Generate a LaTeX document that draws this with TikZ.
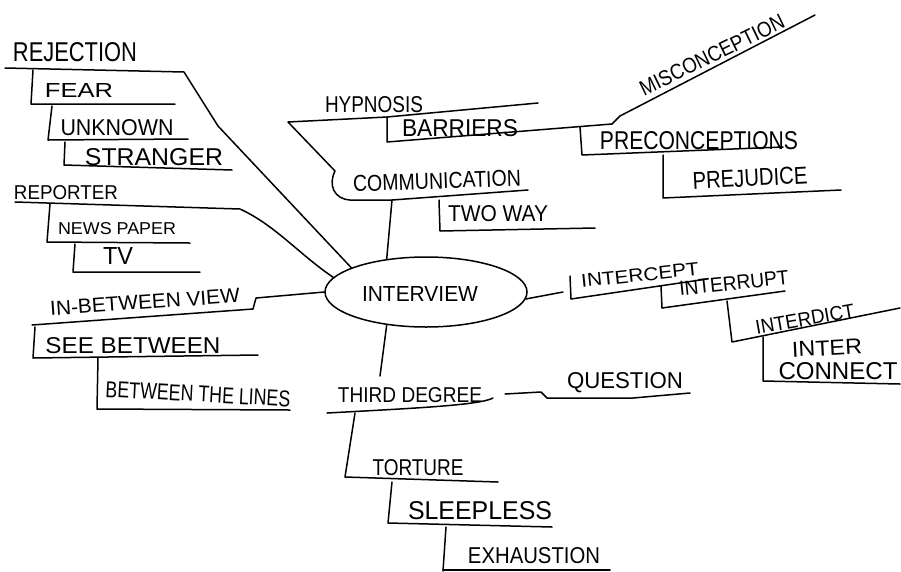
\documentclass[tikz,border=0pt]{standalone}
\usepackage{fontspec}
\setmainfont{Liberation Sans}
\usetikzlibrary{shapes.geometric}
% hand lettering: each word is stretched to the box it occupies (width, cap height)
\newcommand{\hw}[3]{\resizebox{#1pt}{#2pt}{#3}}
\tikzset{
  pen/.style={line width=1.5pt, line cap=round, line join=round, black},
  lbl/.style={inner sep=0pt, outer sep=0pt, anchor=center},
  hub/.style={draw, ellipse, line width=1.5pt, minimum width=202pt, minimum height=70pt, inner sep=0pt}
}
\begin{document}
\begin{tikzpicture}[x=1pt, y=-1pt]
\useasboundingbox[fill=white] (0,0) rectangle (901,571);

% ---- central node ----
\node[hub] (interview) at (426,292) {};
\node[lbl] (interviewtxt) at (420,294) {\hw{116}{15}{INTERVIEW}};

% ---- rejection branch ----
\node[lbl] (rejection) at (75,52) {\hw{124}{19}{REJECTION}};
\node[lbl] (fear) at (79,90) {\hw{68}{14}{FEAR}};
\node[lbl] (unknown) at (117,128) {\hw{113}{16}{UNKNOWN}};
\node[lbl] (stranger) at (154,157) {\hw{138}{17}{STRANGER}};
\coordinate (rejA) at (5,68);
\coordinate (rejB) at (184,72);
\coordinate (rejC) at (218,126);
\draw[pen] (rejA) -- (rejB) -- (rejC) -- (interview.162);
\draw[pen] (33,70) -- (31,104) -- (175,104);
\draw[pen] (52,106) -- (48,140) -- (188,139);
\draw[pen] (65,142) -- (64,165) -- (232,170);

% ---- reporter branch ----
\node[lbl] (reporter) at (66,193) {\hw{104}{14}{REPORTER}};
\node[lbl] (newspaper) at (117,229) {\hw{118}{12}{NEWS PAPER}};
\node[lbl] (tv) at (118,256) {\hw{30}{17}{TV}};
\coordinate (repA) at (15,202);
\coordinate (repB) at (240,209);
\draw[pen] (repA) -- (repB) .. controls (275,225) and (300,255) .. (interview.171);
\draw[pen] (50,204) -- (47,242) -- (190,243);
\draw[pen] (75,244) -- (73,272) -- (200,272);

% ---- in-between view branch ----
\node[lbl, rotate=4] (inbetween) at (145,302) {\hw{190}{14}{IN-BETWEEN VIEW}};
\node[lbl] (seebetween) at (133,346) {\hw{175}{16}{SEE BETWEEN}};
\node[lbl, rotate=-3] (lines) at (198,394) {\hw{185}{16}{BETWEEN THE LINES}};
\draw[pen] (32,325) -- (253,309) -- (256,298) -- (interview.180);
\draw[pen] (35,327) -- (33,358) -- (258,355);
\draw[pen] (98,358) -- (97,409) -- (290,410);

% ---- hypnosis / communication branch ----
\node[lbl] (hypnosis) at (374,105) {\hw{98}{16}{HYPNOSIS}};
\node[lbl] (barriers) at (460,128) {\hw{116}{17}{BARRIERS}};
\node[lbl, rotate=2] (communication) at (437,181) {\hw{168}{16}{COMMUNICATION}};
\node[lbl] (twoway) at (498,214) {\hw{100}{16}{TWO WAY}};
\node[lbl, rotate=26] (misconception) at (712,55) {\hw{158}{15}{MISCONCEPTION}};
\node[lbl] (preconceptions) at (699,141) {\hw{198}{18}{PRECONCEPTIONS}};
\node[lbl, rotate=3] (prejudice) at (750,178) {\hw{115}{17}{PREJUDICE}};
\coordinate (comm) at (392,200);
\draw[pen] (538,103) -- (387,117) -- (288,122) -- (335,171)
  .. controls (328,185) and (334,199) .. (350,200) -- (comm) -- (528,190);
\draw[pen] (comm) -- (interview.140);
\draw[pen] (387,117) -- (387,142) -- (612,124) -- (620,116) -- (815,15);
\draw[pen] (580,127) -- (582,155) -- (783,147);
\draw[pen] (663,155) -- (663,198) -- (841,190);
\draw[pen] (439,200) -- (440,231) -- (595,228);

% ---- intercept branch ----
\node[lbl, rotate=6] (intercept) at (640,275) {\hw{118}{13}{INTERCEPT}};
\node[lbl, rotate=6] (interrupt) at (734,283) {\hw{110}{14}{INTERRUPT}};
\node[lbl, rotate=10] (interdict) at (805,319) {\hw{100}{14}{INTERDICT}};
\node[lbl, rotate=3] (inter) at (827,348) {\hw{70}{15}{INTER}};
\node[lbl] (connect) at (838,371) {\hw{119}{17}{CONNECT}};
\coordinate (icp) at (563,292);
\draw[pen] (interview.356) -- (icp);
\draw[pen] (570,276) -- (571,299) -- (707,279);
\draw[pen] (661,286) -- (662,308) -- (785,291);
\draw[pen] (727,301) -- (732,342) -- (900,308);
\draw[pen] (763,337) -- (763,381) -- (900,384);

% ---- third degree branch ----
\node[lbl] (thirddegree) at (410,395) {\hw{144}{15}{THIRD DEGREE}};
\node[lbl] (question) at (625,383) {\hw{116}{16}{QUESTION}};
\node[lbl] (torture) at (418,468) {\hw{91}{16}{TORTURE}};
\node[lbl] (sleepless) at (480,511) {\hw{144}{18}{SLEEPLESS}};
\node[lbl] (exhaustion) at (534,556) {\hw{132}{16}{EXHAUSTION}};
\coordinate (tdtop) at (380,376);
\draw[pen] (interview.220) -- (tdtop);
\draw[pen] (327,413) .. controls (420,408) and (480,405) .. (493,398);
\draw[pen] (505,394) -- (541,392) -- (547,398) -- (633,398) -- (690,393);
\draw[pen] (355,413) -- (345,477) -- (498,482);
\draw[pen] (392,482) -- (388,523) -- (552,527);
\draw[pen] (446,527) -- (443,571);
\draw[pen] (443,570) -- (610,570);
\end{tikzpicture}
\end{document}
